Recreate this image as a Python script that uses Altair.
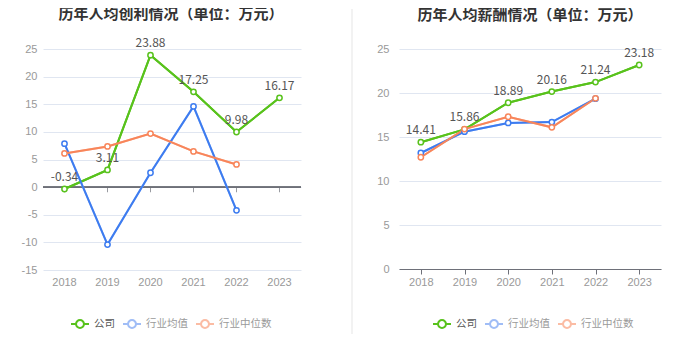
import altair as alt
import pandas as pd

years = ["2018", "2019", "2020", "2021", "2022", "2023"]
series_names = ["公司", "行业均值", "行业中位数"]

profit_company = [-0.34, 3.11, 23.88, 17.25, 9.98, 16.17]
profit_mean = [7.86, -10.4, 2.6, 14.6, -4.2, None]
profit_median = [6.1, 7.37, 9.7, 6.47, 4.1, None]

salary_company = [14.41, 15.86, 18.89, 20.16, 21.24, 23.18]
salary_mean = [13.18, 15.6, 16.6, 16.7, 19.35, None]
salary_median = [12.7, 15.9, 17.3, 16.1, 19.4, None]

line_colors = ["#58c21c", "#3d7cf0", "#f8855a"]
legend_colors = ["#58c21c", "#a0bdf6", "#fbbca4"]
FONT = "Noto Sans CJK SC"


def long_df(c, m, md):
    rows = []
    for name, vals in zip(series_names, [c, m, md]):
        for y, v in zip(years, vals):
            if v is not None:
                rows.append({"year": y, "series": name, "value": v, "label": f"{v:.2f}"})
    return pd.DataFrame(rows)


sym_path = ("M-1,0L-0.44,0M0.44,0L1,0M0.44,0A0.44,0.44,0,1,1,-0.44,0"
            "A0.44,0.44,0,1,1,0.44,0")


def make_legend(lx):
    return alt.Legend(
        orient="none", legendX=lx, legendY=265, direction="horizontal",
        title=None, symbolType=sym_path, symbolSize=324, symbolStrokeWidth=2,
        symbolFillColor="white", symbolOpacity=1,
        labelColor=alt.ExprRef("datum.value === '公司' ? '#555555' : '#9a9a9a'"),
        labelFontSize=10.5, labelFont=FONT, columnPadding=4, labelOffset=4,
    )


def panel(df, domain, yvals, title, w, h, lx, zero_axis, ylabpad, tdx, toff):
    color = alt.Color("series:N", scale=alt.Scale(domain=series_names, range=line_colors),
                      legend=None)
    stroke = alt.Stroke("series:N", scale=alt.Scale(domain=series_names, range=legend_colors),
                        legend=make_legend(lx))
    if zero_axis:
        xaxis = alt.Axis(domain=False, ticks=False, labelPadding=6, labelAngle=0,
                         labelColor="#999999", labelFontSize=11, title=None, grid=False)
    else:
        xaxis = alt.Axis(domain=True, domainColor="#6e7079", ticks=True, tickColor="#6e7079",
                         tickSize=5, labelPadding=2, labelAngle=0, labelColor="#999999",
                         labelFontSize=11, title=None, grid=False)
    x = alt.X("year:O", sort=years, scale=alt.Scale(domain=years), axis=xaxis)
    y = alt.Y("value:Q", scale=alt.Scale(domain=domain, nice=False),
              axis=alt.Axis(values=yvals, domain=False, ticks=False, gridColor="#e0e6f1",
                            labelColor="#999999", labelFontSize=11, title=None,
                            labelPadding=ylabpad, labelExpr="'' + datum.value"))
    base = alt.Chart(df)
    layers = []
    if zero_axis:
        zdf = pd.DataFrame({"year": years, "value": [0] * len(years)})
        layers.append(alt.Chart(zdf).mark_rule(color="#6e7079", strokeWidth=1).encode(y=y))
        layers.append(alt.Chart(zdf).mark_tick(orient="vertical", size=5, thickness=1,
                                               color="#6e7079", yOffset=2.5).encode(x=x, y=y))
    # legend-carrying layer, drawn underneath the identical visible lines
    layers.append(base.mark_line(strokeWidth=2).encode(x=x, y=y, stroke=stroke))
    layers.append(base.mark_line(strokeWidth=2).encode(x=x, y=y, color=color))
    layers.append(base.mark_point(filled=False, fill="white", size=28, strokeWidth=1.5,
                                  opacity=1).encode(x=x, y=y, color=color))
    layers.append(base.transform_filter("datum.series === '公司'").mark_text(
        dy=-12, fontSize=12, color="#555555", font=FONT).encode(
        x=x, y=y, text="label:N"))
    return alt.layer(*layers).properties(
        width=w, height=h,
        title=alt.TitleParams(title, fontSize=15, fontWeight="bold", color="#333333",
                              font=FONT, offset=toff, anchor="middle", dx=tdx))


left = panel(long_df(profit_company, profit_mean, profit_median), [-15, 25],
             list(range(-15, 30, 5)), "历年人均创利情况（单位：万元）", 258, 221, 27, True, 6, -1, 15)

divider = alt.Chart(pd.DataFrame({"d": [0]})).mark_rule(color="#f2f2f2", strokeWidth=2).encode(
    x=alt.value(4), y=alt.value(-40), y2=alt.value(285)).properties(width=4, height=221)

right = panel(long_df(salary_company, salary_mean, salary_median), [0, 25],
              list(range(0, 30, 5)), "历年人均薪酬情况（单位：万元）", 262, 220, 33, False, 10, 0, 20.5)

chart = alt.hconcat(left, divider, right, spacing=47, bounds="flush").resolve_scale(
    color="independent", stroke="independent").resolve_legend(
    color="independent", stroke="independent").properties(
    padding={"left": 13, "top": -1, "right": 5, "bottom": 5},
    background="white",
).configure_view(stroke=None)

chart.save("out.html", embed_options={"renderer": "svg", "actions": False})
